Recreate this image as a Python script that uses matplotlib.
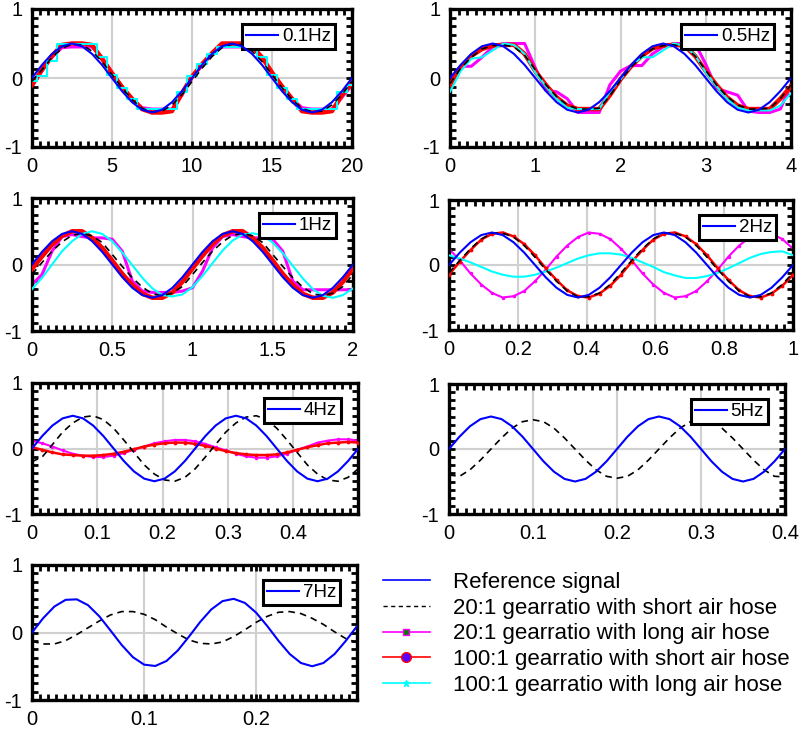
import numpy as np
import matplotlib
matplotlib.use("Agg")
import matplotlib.pyplot as plt
from matplotlib.lines import Line2D
from matplotlib.ticker import MultipleLocator

plt.rcParams['font.family'] = ['Liberation Sans', 'DejaVu Sans']
plt.rcParams['axes.unicode_minus'] = False

# ── Data (each panel spans two periods, 33 samples) ───────────────────────────
# reference signal 0.5*sin, read at 16 samples per period
ref_33 = [0, .19, .35, .46, .5, .46, .35, .19, 0, -.19, -.35, -.46, -.5, -.46, -.35, -.19,
          0, .19, .35, .46, .5, .46, .35, .19, 0, -.19, -.35, -.46, -.5, -.46, -.35, -.19, 0]

# 0.1 Hz
t_01 = np.linspace(0, 20, 33)
dash_01 = [-.05, .12, .3, .43, .49, .48, .39, .24, .05, -.14, -.31, -.44, -.49, -.48, -.39, -.24,
           -.05, .14, .31, .44, .49, .48, .39, .24, .05, -.14, -.31, -.44, -.49, -.48, -.39, -.24, -.05]
mag_01 = [-.12, .1, .3, .44, .45, .45, .45, .3, .08, -.12, -.3, -.43, -.45, -.45, -.45, -.25,
          0, .18, .35, .45, .45, .45, .45, .3, .08, -.12, -.3, -.43, -.45, -.45, -.45, -.28, -.1]
red_01 = [-.1, .12, .32, .48, .5, .5, .48, .28, .07, -.13, -.3, -.45, -.5, -.5, -.48, -.22,
          .02, .2, .36, .5, .5, .5, .46, .3, .08, -.12, -.3, -.48, -.5, -.5, -.48, -.25, -.07]
cyan_01 = [-.05, .03, .25, .5, .5, .5, .5, .3, .05, -.15, -.3, -.45, -.45, -.45, -.45, -.2,
           .03, .2, .35, .45, .45, .45, .45, .3, .05, -.15, -.3, -.45, -.45, -.45, -.45, -.2, -.1]

# 0.5 Hz
t_05 = np.linspace(0, 4, 33)
dash_05 = [-.08, .14, .3, .42, .47, .48, .45, .33, .12, -.1, -.27, -.39, -.45, -.45, -.44, -.26,
           -.03, .16, .31, .42, .47, .48, .45, .32, .11, -.1, -.27, -.39, -.45, -.45, -.44, -.3, -.1]
mag_05 = [-.05, .17, .17, .3, .45, .5, .5, .5, .15, -.18, -.2, -.3, -.5, -.5, -.5, -.1,
          .1, .18, .18, .35, .45, .5, .5, .5, .2, -.15, -.2, -.25, -.48, -.5, -.5, -.45, -.1]
red_05 = [-.1, .15, .32, .42, .47, .48, .48, .35, .1, -.1, -.28, -.4, -.45, -.45, -.45, -.25,
          -.02, .17, .32, .43, .47, .48, .47, .32, .1, -.1, -.28, -.4, -.45, -.45, -.45, -.3, -.12]
cyan_05 = [-.2, .1, .28, .3, .4, .5, .48, .35, .08, -.12, -.3, -.43, -.45, -.45, -.45, -.2,
           -.02, .18, .3, .3, .4, .5, .47, .33, .08, -.12, -.3, -.43, -.47, -.47, -.47, -.4, -.22]

# 1 Hz
t_1 = np.linspace(0, 2, 33)
dash_1 = [-.15, .03, .2, .34, .44, .47, .43, .33, .15, -.03, -.2, -.34, -.44, -.47, -.43, -.33,
          -.15, .03, .2, .34, .44, .47, .43, .33, .15, -.03, -.2, -.34, -.44, -.47, -.43, -.33, -.15]
mag_1 = [-.3, -.15, .2, .42, .45, .42, .4, .4, .38, .2, -.25, -.4, -.42, -.42, -.42, -.4,
         -.35, -.1, .25, .42, .45, .42, .4, .4, .38, .2, -.25, -.38, -.38, -.38, -.38, -.38, -.38]
red_1 = [-.07, .12, .3, .43, .5, .5, .4, .25, .06, -.14, -.31, -.44, -.5, -.5, -.42, -.26,
         -.06, .13, .31, .44, .5, .5, .4, .25, .06, -.14, -.31, -.44, -.5, -.5, -.42, -.26, -.06]
cyan_1 = [-.37, -.2, 0, .2, .35, .46, .5, .46, .35, .18, -.01, -.2, -.36, -.46, -.48, -.45,
          -.34, -.17, .02, .21, .36, .45, .47, .44, .33, .17, -.02, -.21, -.37, -.47, -.5, -.46, -.36]

# 2 Hz
t_2 = np.linspace(0, 1, 33)
dash_2 = [-.12, .07, .25, .4, .49, .49, .43, .3, .12, -.07, -.25, -.4, -.49, -.49, -.43, -.3,
          -.12, .07, .25, .4, .49, .49, .43, .3, .12, -.07, -.25, -.4, -.49, -.49, -.43, -.3, -.12]
mag_2 = [.25, .07, -.13, -.3, -.43, -.5, -.48, -.4, -.25, -.07, .13, .3, .43, .5, .48, .4,
         .25, .07, -.13, -.3, -.43, -.5, -.48, -.4, -.25, -.07, .13, .3, .43, .5, .48, .4, .25]
red_2 = [-.15, .05, .23, .39, .48, .5, .44, .32, .15, -.05, -.23, -.39, -.48, -.5, -.44, -.32,
         -.15, .05, .23, .39, .48, .5, .44, .32, .15, -.05, -.23, -.39, -.48, -.5, -.44, -.32, -.15]
cyan_2 = [.15, .1, .04, -.03, -.1, -.15, -.18, -.18, -.15, -.1, -.04, .03, .1, .15, .18, .18,
          .16, .11, .04, -.03, -.11, -.16, -.2, -.2, -.17, -.12, -.05, .03, .11, .17, .2, .21, .15]

# 4 Hz
t_4 = np.linspace(0, 0.5, 33)
dash_4 = [-.2, -.13, .06, .25, .39, .48, .5, .44, .31, .13, -.06, -.25, -.39, -.48, -.5, -.44,
          -.31, -.13, .06, .25, .39, .48, .5, .44, .31, .13, -.06, -.25, -.39, -.48, -.5, -.44, -.31]
mag_4 = [.12, .08, .03, -.03, -.08, -.11, -.13, -.13, -.11, -.07, -.02, .03, .08, .11, .13, .13,
         .11, .07, .02, -.03, -.08, -.12, -.14, -.14, -.12, -.08, -.02, .03, .09, .12, .14, .14, .12]
red_4 = [.02, -.02, -.06, -.09, -.1, -.11, -.11, -.1, -.08, -.05, -.01, .03, .06, .08, .09, .09,
         .07, .04, 0, -.04, -.07, -.09, -.1, -.1, -.09, -.06, -.02, .02, .05, .08, .09, .1, .09]

# 5 Hz
t_5 = np.linspace(0, 0.4, 33)
dash_5 = [-.4, -.42, -.32, -.17, 0, .17, .32, .42, .45, .42, .32, .17, 0, -.17, -.32, -.42,
          -.45, -.42, -.32, -.17, 0, .17, .32, .42, .45, .42, .32, .17, 0, -.17, -.32, -.42, -.43]

# 7 Hz (sampled every 0.01 s)
t_7 = np.arange(30) * 0.01
ref_7 = [0, .213, .385, .484, .491, .405, .241, .031, -.184, -.365, -.476, -.496, -.422, -.268, -.063,
         .155, .342, .465, .499, .438, .294, .094, -.124, -.319, -.452, -.5, -.452, -.319, -.124, .094]
dash_7 = [-.13, -.17, -.17, -.12, -.03, .07, .17, .26, .31, .31, .27, .19, .08, -.02, -.11,
          -.16, -.17, -.14, -.06, .04, .15, .24, .3, .31, .28, .21, .12, .01, -.09, -.15]

freq_labels = ['0.1Hz', '0.5Hz', '1Hz', '2Hz', '4Hz', '5Hz', '7Hz']
xlims = [(0, 20), (0, 4), (0, 2), (0, 1), (0, 0.4995), (0, 0.4), (0, 0.29)]
xticks = [[0, 5, 10, 15, 20], [0, 1, 2, 3, 4], [0, 0.5, 1, 1.5, 2],
          [0, 0.2, 0.4, 0.6, 0.8, 1], [0, 0.1, 0.2, 0.3, 0.4],
          [0, 0.1, 0.2, 0.3, 0.4], [0, 0.1, 0.2]]
series_labels = ["Reference signal",
                 "20:1 gearratio with short air hose",
                 "20:1 gearratio with long air hose",
                 "100:1 gearratio with short air hose",
                 "100:1 gearratio with long air hose"]

# panel rectangles in pixels (left, top, right, bottom)
W, H = 800, 730
rects = [(32, 9, 352, 147), (450, 9, 791, 147),
         (32, 198, 353, 331), (449, 200, 793, 330),
         (32, 383, 358, 514), (449, 384, 785, 514),
         (32, 565, 357, 700)]

panels = [
    (t_01, ref_33, dash_01, mag_01, red_01, cyan_01),
    (t_05, ref_33, dash_05, mag_05, red_05, cyan_05),
    (t_1, ref_33, dash_1, mag_1, red_1, cyan_1),
    (t_2, ref_33, dash_2, mag_2, red_2, cyan_2),
    (t_4, ref_33, dash_4, mag_4, red_4, None),
    (t_5, ref_33, dash_5, None, None, None),
    (t_7, ref_7, dash_7, None, None, None),
]

BLUE = "#0000FF"
MAGENTA = "#FF00FF"
RED = "#FF0000"
CYAN = "#00FFFF"

fig = plt.figure(figsize=(W / 100, H / 100), dpi=100)

for i, (t, ref, dash, mag, red, cyan) in enumerate(panels):
    x0, y0, x1, y1 = rects[i]
    ax = fig.add_axes([x0 / W, 1 - y1 / H, (x1 - x0) / W, (y1 - y0) / H])
    thin = i >= 3

    if mag is not None:
        if thin:
            ax.plot(t, mag, color=MAGENTA, lw=1.5, marker='.', ms=3, zorder=2)
        else:
            ax.plot(t, mag, color=MAGENTA, lw=2.2, zorder=2)
    if red is not None:
        if thin:
            ax.plot(t, red, color=RED, lw=1.8, marker='.', ms=3.5, zorder=3)
        else:
            ax.plot(t, red, color=RED, lw=3.2, zorder=3)
    if cyan is not None:
        ax.plot(t, cyan, color=CYAN, lw=1.5, zorder=4,
                drawstyle='steps-mid' if i == 0 else 'default')
    ax.plot(t, dash, color='black', lw=1.2, dashes=(4, 3), zorder=5)
    ref_line, = ax.plot(t, ref, color=BLUE, lw=1.5, zorder=6)

    ax.set_xlim(*xlims[i])
    ax.set_ylim(-1, 1)
    ax.set_xticks(xticks[i])
    ax.set_xticklabels(['%g' % v for v in xticks[i]])
    ax.set_yticks([-1, 0, 1])
    ax.set_yticklabels(['-1', '0', '1'])
    span = xlims[i][1] - xlims[i][0]
    ax.xaxis.set_minor_locator(MultipleLocator(span / 40))
    ax.yaxis.set_minor_locator(MultipleLocator(0.125))
    ax.tick_params(which='both', direction='in', top=True, right=True,
                   width=2, colors='black', labelsize=14.5)
    ax.tick_params(which='major', length=4.5, pad=7)
    ax.tick_params(which='minor', length=4)
    ax.grid(True, which='major', color='#D0D0D0', lw=1.5)
    ax.set_axisbelow(True)
    for sp in ax.spines.values():
        sp.set_linewidth(2.4)
        sp.set_color('black')

    leg = ax.legend([ref_line], [freq_labels[i]], loc='upper right',
                    bbox_to_anchor=((x1 - 17) / W, 1 - (y0 + 15) / H),
                    bbox_transform=fig.transFigure, fontsize=13.5,
                    fancybox=False, framealpha=1, edgecolor='black',
                    borderpad=0.22, handlelength=1.7, handletextpad=0.2,
                    borderaxespad=0)
    leg.get_frame().set_linewidth(2.2)

# ── Shared legend in the empty cell ─────────────────────────────────────────
handles = [
    Line2D([], [], color=BLUE, lw=1.2),
    Line2D([], [], color='black', lw=1, dashes=(3, 2.5)),
    Line2D([], [], color=MAGENTA, lw=1.2, marker='s', ms=5,
           mfc='#008000', mec=MAGENTA),
    Line2D([], [], color=RED, lw=1.2, marker='o', ms=7,
           mfc='#5A00FF', mec=RED),
    Line2D([], [], color=CYAN, lw=1.2, marker='*', ms=5, mec=CYAN),
]
fig.legend(handles, series_labels, loc='upper left',
           bbox_to_anchor=(383 / W, 1 - 572 / H), frameon=False,
           fontsize=16, handlelength=2.1, handletextpad=1.05,
           labelspacing=0.21, borderpad=0, borderaxespad=0)

fig.savefig('out.png', dpi=100)
